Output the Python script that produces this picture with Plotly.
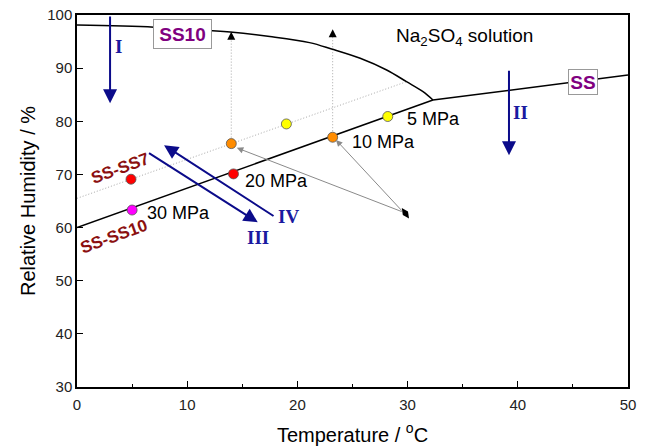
import plotly.graph_objects as go

# ---- data ----
ss10_T = [0, 7, 12.3, 13.9, 17.5, 21.1, 23.1, 25.7, 28.1, 29.9, 31.4, 32.3]
ss10_RH = [98.1, 97.7, 97.05, 96.8, 95.95, 94.8, 93.6, 91.85, 89.65, 87.45, 85.57, 84.0]
ss_T = [32.3, 50]
ss_RH = [84.0, 88.7]
ss_ss10_T = [0, 32.3]
ss_ss10_RH = [60.0, 84.0]
ss_ss7_T = [0, 29.9]
ss_ss7_RH = [65.5, 87.45]

pts_T = [28.2, 19.0, 14.0, 23.2, 14.2, 4.9, 5.0]
pts_RH = [80.9, 79.5, 75.8, 77.0, 70.1, 69.1, 63.3]
pts_color = ["#FFFF00", "#FFFF00", "#FF8C00", "#FF8C00", "#FF0000", "#FF0000", "#FF00FF"]

mpa_labels = ["5 MPa", "10 MPa", "20 MPa", "30 MPa"]
mpa_T = [29.8, 24.8, 15.1, 6.2]
mpa_RH = [80.4, 76.1, 68.8, 62.7]

# vertical dotted guides: (T, RH start, RH arrow tip)
guide_T = [14.0, 23.2]
guide_RH0 = [75.8, 77.0]
guide_RH1 = [96.85, 97.3]

# gray arrows from one origin to points
origin_T, origin_RH = 29.6, 62.9
gray_tip_T = [14.5, 23.5]
gray_tip_RH = [75.0, 76.5]

# blue process arrows: tail -> tip
blue_tail_T = [3.0, 39.2, 6.4, 17.97]
blue_tail_RH = [100.0, 89.8, 74.2, 62.0]
blue_tip_T = [3.0, 39.2, 16.4, 7.9]
blue_tip_RH = [83.4, 73.6, 61.0, 75.5]
roman_labels = ["I", "II", "III", "IV"]
roman_T = [3.8, 40.2, 16.4, 19.2]
roman_RH = [94.0, 81.6, 58.2, 62.0]

xticks = [0, 10, 20, 30, 40, 50]
yticks = [30, 40, 50, 60, 70, 80, 90, 100]

fig = go.Figure()
SANS = "Liberation Sans, Arial, sans-serif"
SERIF = "Liberation Serif, Times New Roman, serif"
DOT = "1px,2px"

# dotted guides
fig.add_trace(go.Scatter(x=ss_ss7_T, y=ss_ss7_RH, mode="lines",
                         line=dict(color="#a8a8a8", width=1, dash=DOT), hoverinfo="skip"))
for t, r0, r1 in zip(guide_T, guide_RH0, guide_RH1):
    fig.add_trace(go.Scatter(x=[t, t], y=[r0, r1 - 1.0], mode="lines",
                             line=dict(color="#a8a8a8", width=1, dash=DOT), hoverinfo="skip"))

# phase lines
fig.add_trace(go.Scatter(x=ss10_T, y=ss10_RH, mode="lines", line=dict(color="black", width=1.5, shape="spline")))
fig.add_trace(go.Scatter(x=ss_T, y=ss_RH, mode="lines", line=dict(color="black", width=1.5)))
fig.add_trace(go.Scatter(x=ss_ss10_T, y=ss_ss10_RH, mode="lines", line=dict(color="black", width=1.5)))

# origin blob of gray arrows
fig.add_trace(go.Scatter(x=[origin_T + 0.2], y=[origin_RH - 0.2], mode="markers",
                         marker=dict(symbol="diamond-wide", size=9, color="black", angle=55),
                         hoverinfo="skip"))

# data points
fig.add_trace(go.Scatter(x=pts_T, y=pts_RH, mode="markers",
                         marker=dict(size=10, color=pts_color, line=dict(color="#555", width=0.8))))

ann = []
# vertical guide arrow heads
for t, r1 in zip(guide_T, guide_RH1):
    ann.append(dict(x=t, y=r1, ax=t, ay=r1 - 1.2, xref="x", yref="y", axref="x", ayref="y",
                    showarrow=True, arrowhead=2, arrowsize=1.6, arrowwidth=1, arrowcolor="black", text=""))
# gray arrows
for t, r in zip(gray_tip_T, gray_tip_RH):
    ann.append(dict(x=t, y=r, ax=origin_T, ay=origin_RH, xref="x", yref="y", axref="x", ayref="y",
                    showarrow=True, arrowhead=2, arrowsize=1.3, arrowwidth=1, arrowcolor="#8a8a8a", text=""))
# blue arrows
for t0, r0, t1, r1 in zip(blue_tail_T, blue_tail_RH, blue_tip_T, blue_tip_RH):
    ann.append(dict(x=t1, y=r1, ax=t0, ay=r0, xref="x", yref="y", axref="x", ayref="y",
                    showarrow=True, arrowhead=2, arrowsize=1.4, arrowwidth=2, arrowcolor="#0b0b8a", text=""))
for lab, t, r in zip(roman_labels, roman_T, roman_RH):
    ann.append(dict(x=t, y=r, text="<b>%s</b>" % lab, showarrow=False,
                    font=dict(family=SERIF, size=19, color="#1a1aa0")))
# MPa labels
for lab, t, r in zip(mpa_labels, mpa_T, mpa_RH):
    ann.append(dict(x=t, y=r, text=lab, showarrow=False, xanchor="left",
                    font=dict(family=SANS, size=18, color="black")))
# boxed phase labels
ann.append(dict(x=9.6, y=96.42, text="<b>SS10</b>", showarrow=False, width=57, height=28,
                bgcolor="white", bordercolor="#999", borderwidth=1, borderpad=0,
                font=dict(family=SANS, size=19, color="#800080")))
ann.append(dict(x=45.94, y=87.39, text="<b>SS</b>", showarrow=False, width=28, height=24,
                bgcolor="white", bordercolor="#999", borderwidth=1, borderpad=0,
                font=dict(family=SANS, size=19, color="#800080")))
ann.append(dict(x=35.2, y=95.9, text="Na<sub>2</sub>SO<sub>4</sub> solution", showarrow=False,
                font=dict(family=SANS, size=19, color="black")))
ann.append(dict(x=3.9, y=71.1, text="<b>SS-SS7</b>", showarrow=False, textangle=-20,
                font=dict(family=SANS, size=17, color="#8b1010")))
ann.append(dict(x=3.36, y=58.3, text="<b>SS-SS10</b>", showarrow=False, textangle=-20,
                font=dict(family=SANS, size=17, color="#8b1010")))

fig.update_layout(
    width=646, height=446,
    margin=dict(l=77, r=18, t=15, b=59, autoexpand=False),
    paper_bgcolor="white", plot_bgcolor="white",
    showlegend=False,
    annotations=ann,
    font=dict(family=SANS, color="black"),
)
fig.update_xaxes(range=[0, 50], tickvals=xticks, ticks="inside", ticklen=6, tickcolor="black",
                 showline=True, linecolor="black", linewidth=1.5, mirror=True, showgrid=False, zeroline=False,
                 automargin=False, ticklabelstandoff=3,
                 tickfont=dict(family=SANS, size=15, color="#222"),
                 minor=dict(tickvals=[5, 15, 25, 35, 45], ticks="inside", ticklen=3, tickcolor="black"),
                 title=dict(text="Temperature / <sup>o</sup>C", font=dict(family=SANS, size=20), standoff=16))
fig.update_yaxes(range=[30, 100], tickvals=yticks, ticks="inside", ticklen=6, tickcolor="black",
                 showline=True, linecolor="black", linewidth=1.5, mirror=True, showgrid=False, zeroline=False,
                 automargin=False,
                 tickfont=dict(family=SANS, size=15, color="#222"),
                 title=dict(text="Relative Humidity / %", font=dict(family=SANS, size=20), standoff=6))

fig.write_html("out.html")
